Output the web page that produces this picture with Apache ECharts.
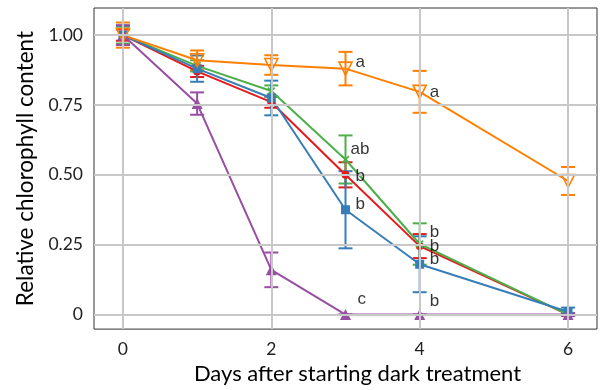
<!DOCTYPE html>
<html>
<head>
<meta charset="utf-8">
<script src="https://cdn.jsdelivr.net/npm/echarts@6/dist/echarts.min.js"></script>
<style>
  html, body { margin: 0; padding: 0; background: #fff; }
  #chart { width: 604px; height: 390px; }
</style>
</head>
<body>
<div id="chart"></div>
<script>
// Days after the start of darkness
const days = [0, 1, 2, 3, 4, 6];

// Mean relative chlorophyll content and error per genotype
const orangeMean = [1.00, 0.91, 0.893, 0.88, 0.797, 0.478];
const orangeErr  = [0.045, 0.035, 0.035, 0.06, 0.075, 0.05];
const greenMean  = [1.00, 0.89, 0.80, 0.555, 0.2525, 0.0];
const greenErr   = [0.03, 0.02, 0.02, 0.086, 0.074, 0.005];
const redMean    = [1.00, 0.87, 0.76, 0.50, 0.245, 0.0];
const redErr     = [0.02, 0.02, 0.02, 0.045, 0.043, 0.005];
const blueMean   = [1.00, 0.88, 0.775, 0.375, 0.18, 0.01];
const blueErr    = [0.035, 0.047, 0.062, 0.138, 0.10, 0.015];
const purpleMean = [1.00, 0.755, 0.16, 0.0, 0.0, 0.0];
const purpleErr  = [0.035, 0.04, 0.062, 0.0, 0.0, 0.005];

// Significance letters at days 3 and 4
const letterDays     = [3, 4];
const orangeLetters  = ['a', 'a'];
const greenLetters   = ['ab', 'b'];
const redLetters     = ['b', 'b'];
const blueLetters    = ['b', 'b'];
const purpleLetters  = ['c', 'b'];

// Axis ticks
const xTicks = [0, 2, 4, 6];
const yTicks = [0, 0.25, 0.5, 0.75, 1.0];
const yTickLabels = ['0', '0.25', '0.50', '0.75', '1.00'];

const FONT = 'Liberation Sans, Arial, sans-serif';
const TITLE_FONT = 'Lato, Liberation Sans, sans-serif';

const groups = [
  { name: 'red',    color: '#E41A1C', mean: redMean,    err: redErr,    letters: redLetters,
    symbol: 'circle', size: 8, open: false, offs: [[10, 1], [10, 0]] },
  { name: 'green',  color: '#4DAF4A', mean: greenMean,  err: greenErr,  letters: greenLetters,
    symbol: 'path://M0,1.5L1.5,0L5,3.5L8.5,0L10,1.5L6.5,5L10,8.5L8.5,10L5,6.5L1.5,10L0,8.5L3.5,5Z', size: 8, open: false,
    offs: [[5, -10], [10, -12]] },
  { name: 'blue',   color: '#377EB8', mean: blueMean,   err: blueErr,   letters: blueLetters,
    symbol: 'rect', size: 9, open: false, offs: [[10, -5], [10, -5]] },
  { name: 'purple', color: '#984EA3', mean: purpleMean, err: purpleErr, letters: purpleLetters,
    symbol: 'triangle', size: 11, open: false, offs: [[12, -15], [10, -13]] },
  { name: 'orange', color: '#FF7F00', mean: orangeMean, err: orangeErr, letters: orangeLetters,
    symbol: 'triangle', size: 13, open: true, offs: [[10, -6], [10, 0]] }
];

const series = [];

// Background grid lines drawn from the tick values
series.push({
  type: 'line', data: [], silent: true, z: 0,
  markLine: {
    silent: true, symbol: 'none', animation: false,
    label: { show: false },
    lineStyle: { color: '#c8c8c8', width: 2, type: 'solid' },
    data: xTicks.map(v => ({ xAxis: v })).concat(yTicks.map(v => ({ yAxis: v })))
  }
});

groups.forEach(g => {
  // Error bars with caps
  series.push({
    type: 'custom',
    name: g.name + '-err',
    z: 3,
    silent: true,
    data: days.map((d, i) => [d, g.mean[i] - g.err[i], g.mean[i] + g.err[i]]),
    renderItem: (params, api) => {
      const x = api.value(0);
      const lo = api.coord([x, api.value(1)]);
      const hi = api.coord([x, api.value(2)]);
      const hw = 7;
      const st = { stroke: g.color, lineWidth: 2 };
      return {
        type: 'group',
        children: [
          { type: 'line', shape: { x1: lo[0], y1: lo[1], x2: hi[0], y2: hi[1] }, style: st },
          { type: 'line', shape: { x1: lo[0] - hw, y1: lo[1], x2: lo[0] + hw, y2: lo[1] }, style: st },
          { type: 'line', shape: { x1: hi[0] - hw, y1: hi[1], x2: hi[0] + hw, y2: hi[1] }, style: st }
        ]
      };
    }
  });
  // Mean line with markers
  series.push({
    type: 'line',
    name: g.name,
    z: 3,
    data: days.map((d, i) => [d, g.mean[i]]),
    symbol: g.symbol,
    symbolSize: g.size,
    symbolRotate: g.open ? 180 : 0,
    showAllSymbol: true,
    lineStyle: { color: g.color, width: 2 },
    itemStyle: g.open
      ? { color: 'rgba(255,255,255,0)', borderColor: g.color, borderWidth: 1.6 }
      : { color: g.color, borderWidth: 0 },
    emphasis: { disabled: true },
    animation: false
  });
  // Letters next to the means
  series.push({
    type: 'scatter',
    name: g.name + '-letters',
    z: 5,
    symbolSize: 0,
    silent: true,
    data: letterDays.map((d, k) => ({
      value: [d, g.mean[days.indexOf(d)]],
      label: {
        show: true,
        formatter: g.letters[k],
        position: 'right',
        distance: 0,
        offset: [g.offs[k][0], g.offs[k][1]],
        color: '#000',
        fontSize: 17,
        fontFamily: FONT
      }
    })),
    animation: false
  });
});

const chart = echarts.init(document.getElementById('chart'), null, { renderer: 'canvas' });
chart.setOption({
  animation: false,
  backgroundColor: '#fff',
  grid: {
    left: 94, right: 7, top: 8, bottom: 60,
    show: true, borderColor: '#333', borderWidth: 1, backgroundColor: 'transparent'
  },
  xAxis: {
    type: 'value',
    min: -0.39, max: 6.39,
    name: 'Days after starting dark treatment',
    nameLocation: 'middle',
    nameGap: 32,
    nameTextStyle: { fontSize: 22, color: '#000', fontFamily: TITLE_FONT, padding: [0, 0, 0, 24] },
    axisLine: { show: false },
    splitLine: { show: false },
    axisTick: { show: true, customValues: xTicks, length: 5, inside: false, lineStyle: { color: '#222', width: 1.5 } },
    axisLabel: {
      customValues: xTicks, margin: 11, fontSize: 17.5, color: '#222',
      fontFamily: TITLE_FONT
    }
  },
  yAxis: {
    type: 'value',
    min: -0.052, max: 1.097,
    name: 'Relative chlorophyll content',
    nameLocation: 'middle',
    nameGap: 55,
    nameRotate: 90,
    nameTextStyle: { fontSize: 22.5, color: '#000', fontFamily: TITLE_FONT },
    axisLine: { show: false },
    splitLine: { show: false },
    axisTick: { show: true, customValues: yTicks, length: 5, inside: false, lineStyle: { color: '#222', width: 1.5 } },
    axisLabel: {
      customValues: yTicks, margin: 11, fontSize: 17.5, color: '#222',
      fontFamily: TITLE_FONT,
      formatter: v => {
        const i = yTicks.findIndex(t => Math.abs(t - v) < 1e-6);
        return i >= 0 ? yTickLabels[i] : '';
      }
    }
  },
  series: series
});
</script>
</body>
</html>
